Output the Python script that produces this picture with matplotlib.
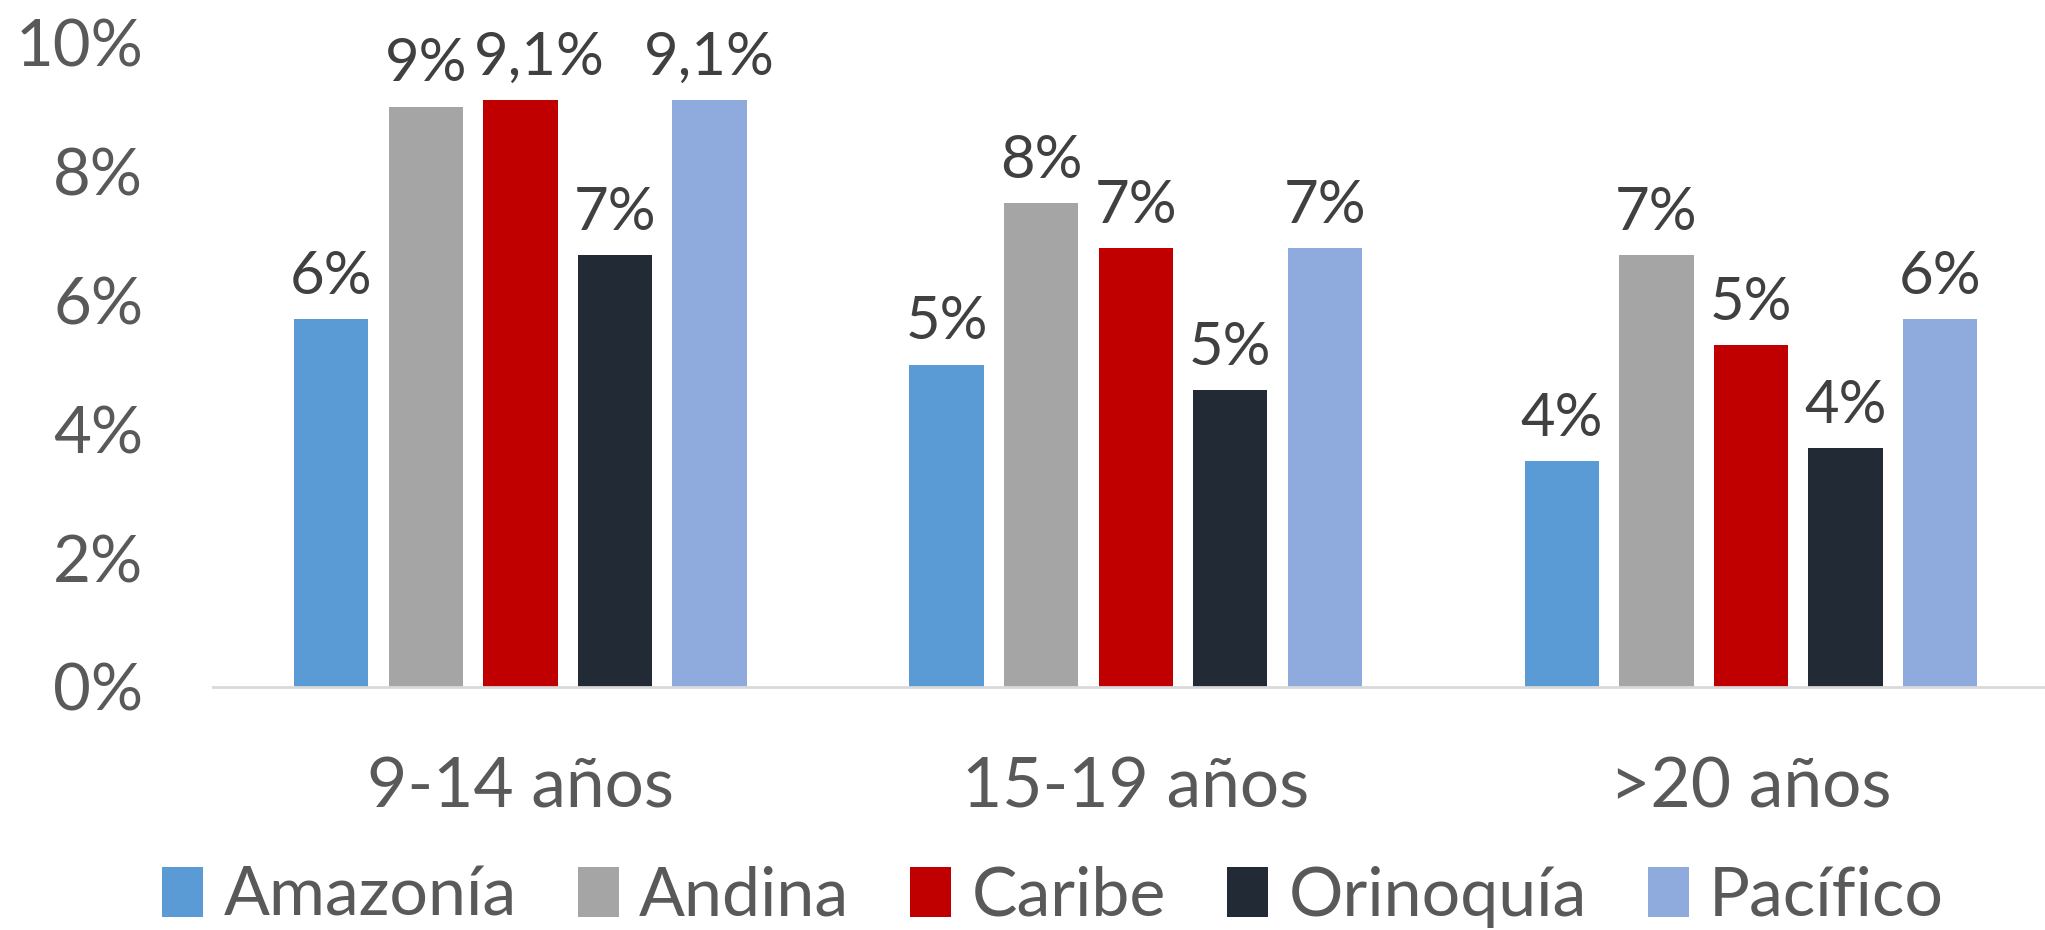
import matplotlib.pyplot as plt
import numpy as np

plt.rcParams["font.family"] = ["Lato", "DejaVu Sans"]

# data
grupos = ["9-14 años", "15-19 años", ">20 años"]
regiones = ["Amazonía", "Andina", "Caribe", "Orinoquía", "Pacífico"]
amazonia = [5.7, 5.0, 3.5]
andina = [9.0, 7.5, 6.7]
caribe = [9.1, 6.8, 5.3]
orinoquia = [6.7, 4.6, 3.7]
pacifico = [9.1, 6.8, 5.7]
etiquetas = [
    ["6%", "5%", "4%"],
    ["9%", "8%", "7%"],
    ["9,1%", "7%", "5%"],
    ["7%", "5%", "4%"],
    ["9,1%", "7%", "6%"],
]
colores = ["#5B9BD5", "#A5A5A5", "#C00000", "#222A35", "#8FAADC"]

series = [amazonia, andina, caribe, orinoquia, pacifico]

fig = plt.figure(figsize=(20.45, 9.3), dpi=100)
ax = fig.add_axes([0.104, 0.2613, 0.9027, 0.6935])

x = np.arange(len(grupos))
paso = 0.1536
ancho = 0.1208
for i, (vals, col, nombre) in enumerate(zip(series, colores, regiones)):
    pos = x + (i - 2) * paso
    bars = ax.bar(pos, vals, width=ancho, color=col, label=nombre, zorder=2)
    for j, (b, txt) in enumerate(zip(bars, etiquetas[i])):
        # la etiqueta de Caribe en 9-14 va corrida a la derecha en el original
        dx = 14 if (i == 2 and j == 0) else 0
        ax.annotate(
            txt,
            (b.get_x() + b.get_width() / 2, b.get_height()),
            xytext=(dx, 11),
            textcoords="offset points",
            ha="center",
            va="bottom",
            fontsize=43,
            color="#404040",
        )

ax.set_xlim(-0.5, 2.5)
ax.set_ylim(0, 10)
ax.set_yticks(range(0, 11, 2))
ax.set_yticklabels([f"{v}%" for v in range(0, 11, 2)])
ax.set_xticks(x)
ax.set_xticklabels(grupos)
ax.tick_params(axis="y", length=0, pad=50, labelsize=47, labelcolor="#595959")
ax.tick_params(axis="x", length=0, pad=50, labelsize=50, labelcolor="#595959")
for s in ["top", "right", "left"]:
    ax.spines[s].set_visible(False)
ax.spines["bottom"].set_color("#D9D9D9")
ax.spines["bottom"].set_linewidth(2)

fig.legend(
    loc="center",
    bbox_to_anchor=(0.515, 0.036),
    ncol=5,
    frameon=False,
    fontsize=49,
    labelcolor="#595959",
    handlelength=0.6,
    handleheight=0.75,
    handletextpad=0.3,
    columnspacing=0.9,
)

fig.savefig("out.png", dpi=100)
